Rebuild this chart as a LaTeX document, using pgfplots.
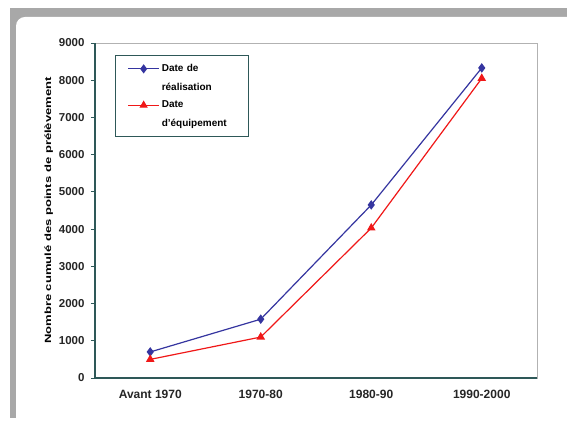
\documentclass[border=0pt]{standalone}
\usepackage{pgfplots}
\pgfplotsset{compat=1.18}
\usepackage{fontspec}
\setmainfont{Liberation Sans}
\definecolor{axteal}{HTML}{2E5858}
\definecolor{serblue}{HTML}{3535A0}
\definecolor{serred}{HTML}{F01818}
\definecolor{frame}{HTML}{A8A8A8}
\begin{document}
\begin{tikzpicture}[x=1pt,y=1pt]
\clip (0,0) rectangle (567,423);
\fill[white] (0,0) rectangle (567,423);
\fill[frame] (10,5) rectangle (567,415);
\fill[white,rounded corners=9pt] (16,-10) rectangle (580,406);
\begin{axis}[
  at={(95pt,45pt)}, anchor=south west,
  scale only axis, width=442pt, height=335pt,
  xmin=-0.5, xmax=3.5, ymin=0, ymax=9000,
  xtick={0,1,2,3},
  xticklabels={Avant 1970,1970-80,1980-90,1990-2000},
  minor xtick={-0.5,0.5,1.5,2.5,3.5},
  ytick={0,1000,...,9000},
  xtick pos=bottom, ytick pos=left,
  scaled y ticks=false,
  tick align=outside,
  major tick length=4pt, minor tick length=4pt,
  every x tick/.style={draw=none},
  every minor x tick/.style={axteal, line width=1pt},
  every y tick/.style={axteal, line width=1pt},
  tick label style={font=\fontsize{11.5}{13}\selectfont\bfseries, color=black!85},
  xticklabel style={font=\fontsize{12}{14}\selectfont\bfseries, yshift=-5pt},
  /pgf/number format/assume math mode=true,
  /pgf/number format/set thousands separator={},
  yticklabel style={xshift=-3pt},
  axis line style={draw=black!30, line width=0.8pt},
  ylabel={\scalebox{1.45}[1]{Nombre cumulé des points de prélèvement}},
  ylabel style={font=\fontsize{9}{11}\selectfont\bfseries, yshift=-1pt},
  clip=false,
  legend style={at={(20pt,323pt)}, anchor=north west, draw=axteal, line width=1pt,
    font=\fontsize{10}{12}\selectfont\bfseries, inner xsep=12pt, inner ysep=7pt, row sep=5.5pt,
    legend cell align=left, nodes={text width=73pt, align=left}},
  legend image code/.code={%
    \draw[mark repeat=2,mark phase=2,line width=1pt]
      plot coordinates {(0cm,0cm) (0.55cm,0cm) (1.1cm,0cm)};},
]
\addplot[serblue, line width=1.2pt, mark=diamond*, mark size=3.8pt, mark options={solid}]
  coordinates {(0,700) (1,1580) (2,4650) (3,8330)};
\addlegendentry{Date de}
\addlegendimage{empty legend}
\addlegendentry{réalisation\rule[-4pt]{0pt}{0pt}}
\addplot[serred, line width=1.2pt, mark=triangle*, mark size=3.8pt]
  coordinates {(0,500) (1,1100) (2,4030) (3,8050)};
\addlegendentry{Date}
\addlegendimage{empty legend}
\addlegendentry{d'équipement}
\draw[axteal, line width=1.4pt] (axis cs:-0.5,9000) -- (axis cs:-0.5,0) -- (axis cs:3.5,0);
\end{axis}
\end{tikzpicture}
\end{document}
